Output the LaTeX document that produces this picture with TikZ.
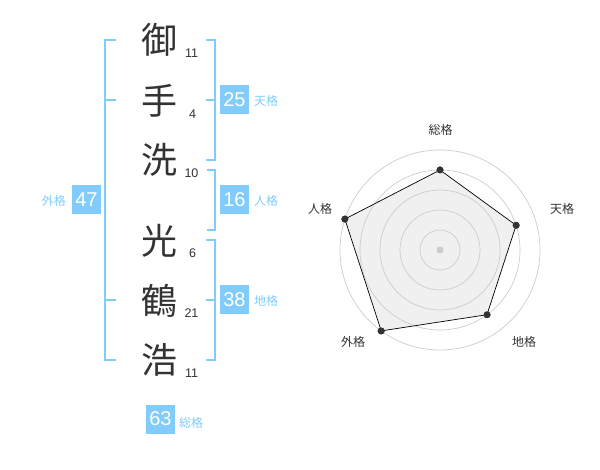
\documentclass[tikz,border=0pt]{standalone}
\usepackage{fontspec}
\setmainfont{Liberation Sans}
\newfontfamily\jp{Noto Sans CJK JP}
\definecolor{lb}{RGB}{129,204,250}
\definecolor{ink}{RGB}{51,51,51}
\definecolor{ring}{RGB}{204,204,204}
\definecolor{area}{RGB}{240,240,240}
\begin{document}
\begin{tikzpicture}[x=1pt,y=-1pt,
  kanji/.style={font=\jp\fontsize{36}{36}\selectfont, text=ink, inner sep=0},
  strokes/.style={font=\fontsize{12.5}{12.5}\selectfont, text=ink, inner sep=0},
  numbox/.style={fill=lb, text=white, minimum width=29pt, minimum height=29pt, inner sep=0, font=\fontsize{20}{20}\selectfont},
  lbl/.style={text=lb, font=\jp\fontsize{12}{12}\selectfont, inner sep=0},
  brk/.style={draw=lb, line width=2pt},
  axislbl/.style={text=ink, font=\jp\fontsize{12}{12}\selectfont, inner sep=0},
  ringline/.style={draw=ring, line width=0.7pt},
  dot/.style={circle, fill=ink, inner sep=0, minimum size=7pt}]
\useasboundingbox (0,0) rectangle (600,470);
% kanji
\node[kanji] (k1) at (159,40) {御};
\node[kanji] (k2) at (159,101) {手};
\node[kanji] (k3) at (159,160) {洗};
\node[kanji] (k4) at (159,241) {光};
\node[kanji] (k5) at (159,301) {鶴};
\node[kanji] (k6) at (159,360) {浩};
% stroke counts
\node[strokes] (s1) at (191.5,53) {11};
\node[strokes] (s2) at (192.5,114) {4};
\node[strokes] (s3) at (191.5,173) {10};
\node[strokes] (s4) at (192.5,253) {6};
\node[strokes] (s5) at (191.5,313) {21};
\node[strokes] (s6) at (191.5,373) {11};
% brackets
\draw[brk] (116,40) -- (105,40) -- (105,360) -- (116,360);
\draw[brk] (105,100) -- (116,100);
\draw[brk] (105,300) -- (116,300);
\draw[brk] (206,40) -- (215,40) -- (215,160) -- (206,160);
\draw[brk] (215,100) -- (206,100);
\draw[brk] (207,170) -- (215,170) -- (215,230) -- (207,230);
\draw[brk] (206,240) -- (215,240) -- (215,360) -- (206,360);
\draw[brk] (215,300) -- (206,300);
% boxes
\node[numbox] (ten) at (234.5,100) {25};
\node[lbl, anchor=west] (tenl) at (254,100.5) {天格};
\node[numbox] (jin) at (234.5,200) {16};
\node[lbl, anchor=west] (jinl) at (254,200.5) {人格};
\node[numbox] (chi) at (234.5,300) {38};
\node[lbl, anchor=west] (chil) at (254,300.5) {地格};
\node[numbox] (gai) at (86.5,200) {47};
\node[lbl, anchor=east] (gail) at (66,200.5) {外格};
\node[numbox] (sou) at (160.5,419) {63};
\node[lbl, anchor=west] (soul) at (179,423) {総格};
% radar
\coordinate (c) at (440,250);
\node[dot] (p1) at (440,170) {};
\node[dot] (p2) at (516.1,225.3) {};
\node[dot] (p3) at (487.0,314.7) {};
\node[dot] (p4) at (381.2,330.9) {};
\node[dot] (p5) at (344.9,219.1) {};
\fill[area] (p1.center) -- (p2.center) -- (p3.center) -- (p4.center) -- (p5.center) -- cycle;
\foreach \r in {20,40,60,80,100} \draw[ringline] (c) circle[radius=\r];
\fill[ring] (c) circle[radius=3.5];
\draw[black, line width=0.7pt] (p1.center) -- (p2.center) -- (p3.center) -- (p4.center) -- (p5.center) -- cycle;
\foreach \p in {p1,p2,p3,p4,p5} \fill[ink] (\p) circle[radius=3.5];
\node[axislbl] (a1) at (440.5,130) {総格};
\node[axislbl] (a2) at (562,209) {天格};
\node[axislbl] (a3) at (524,342) {地格};
\node[axislbl] (a4) at (353,342) {外格};
\node[axislbl] (a5) at (320,209) {人格};
\end{tikzpicture}
\end{document}
